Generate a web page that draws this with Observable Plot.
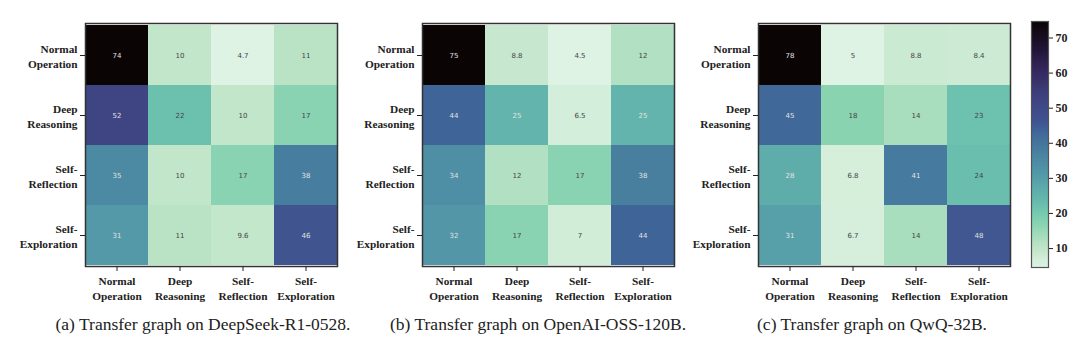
<!DOCTYPE html>
<html><head><meta charset="utf-8">
<script src="https://cdn.jsdelivr.net/npm/d3@7"></script>
<script src="https://cdn.jsdelivr.net/npm/@observablehq/plot@0.6"></script>
<style>
html,body{margin:0;padding:0;background:#fff;}
#root{position:relative;width:1080px;height:354px;overflow:hidden;background:#fff;}
.panel{position:absolute;top:0;}
.panel text{font-family:"Liberation Serif","Times New Roman",serif;}
.panel .cellval text,.panel text.cellval,.panel g.cellval{font-family:"DejaVu Sans",sans-serif !important;font-weight:normal;}
.cap{position:absolute;top:314px;font-family:"Liberation Serif","Times New Roman",serif;font-size:17.5px;line-height:20px;color:#222;white-space:nowrap;transform:translateX(-50%);}
</style></head><body><div id="root"></div>
<script>
const states = ["Normal Operation", "Deep Reasoning", "Self-Reflection", "Self-Exploration"];
const tickLabels = ["Normal\nOperation", "Deep\nReasoning", "Self-\nReflection", "Self-\nExploration"];
// rows: from-state, columns: to-state
const deepseekR1 = [
  [74, 10, 4.7, 11],
  [52, 22, 10, 17],
  [35, 10, 17, 38],
  [31, 11, 9.6, 46]
];
const openaiOss = [
  [75, 8.8, 4.5, 12],
  [44, 25, 6.5, 25],
  [34, 12, 17, 38],
  [32, 17, 7, 44]
];
const qwq = [
  [78, 5, 8.8, 8.4],
  [45, 18, 14, 23],
  [28, 6.8, 41, 24],
  [31, 6.7, 14, 48]
];
const captions = [
  "(a) Transfer graph on DeepSeek-R1-0528.",
  "(b) Transfer graph on OpenAI-OSS-120B.",
  "(c) Transfer graph on QwQ-32B."
];
const colorbarDomain = [4.6, 74.7];
const colorbarTicks = [10, 20, 30, 40, 50, 60, 70];

// reversed "mako"-like ramp (light -> dark)
const rampStops = [0, 0.08, 0.18, 0.25, 0.38, 0.48, 0.56, 0.6, 0.68, 0.8, 0.9, 1];
const rampColors = ["#def3e4", "#c0e5c8", "#88d3b1", "#6bc1ae", "#5399a8", "#477e9f", "#3f6498", "#40528f", "#3f4583", "#35295f", "#1e1330", "#0b0405"];
const ramp = d3.scaleLinear().domain(rampStops).range(rampColors).interpolate(d3.interpolateRgb).clamp(true);
const makoR = t => ramp(t);

const root = document.getElementById("root");
const serif = "'Liberation Serif', 'Times New Roman', serif";
const fontStyle = {fontFamily: serif, fontSize: "11.3px", fontWeight: "bold", color: "#222", background: "transparent", overflow: "visible"};

function panel(matrix) {
  const data = matrix.flatMap((row, i) => row.map((v, j) => ({from: states[i], to: states[j], v})));
  const [lo, hi] = d3.extent(data, d => d.v);
  return Plot.plot({
    width: 340, height: 310,
    marginLeft: 85, marginRight: 3, marginTop: 23, marginBottom: 44,
    style: fontStyle,
    x: {domain: states, padding: 0},
    y: {domain: states, padding: 0},
    color: {type: "linear", domain: [lo, hi], interpolate: makoR},
    marks: [
      Plot.cell(data, {x: "to", y: "from", fill: "v"}),
      Plot.text(data, {x: "to", y: "from", text: d => String(d.v),
        fill: d => (d.v - lo) / (hi - lo) > 0.275 ? "#e2e2e2" : "#444",
        fontSize: 7, fontWeight: "normal", fontFamily: "DejaVu Sans", className: "cellval"}),
      Plot.frame({stroke: "#333", strokeWidth: 1.5}),
      Plot.axisX({tickFormat: d => tickLabels[states.indexOf(d)], tickSize: 5, tickPadding: 3, lineHeight: 1.3, label: null, fontFamily: serif}),
      Plot.axisY({tickFormat: d => tickLabels[states.indexOf(d)], tickSize: 5, tickPadding: 3, lineHeight: 1.4, label: null, fontFamily: serif})
    ]
  });
}

const lefts = [0, 336.7, 672.7];
[deepseekR1, openaiOss, qwq].forEach((m, k) => {
  const svg = panel(m);
  svg.classList.add("panel");
  svg.style.left = lefts[k] + "px";
  root.appendChild(svg);
});

const cb = Plot.plot({
  width: 60, height: 300,
  marginLeft: 11, marginRight: 32, marginTop: 21, marginBottom: 33,
  style: {...fontStyle, fontSize: "12px"},
  x: {domain: [0, 1], axis: null},
  y: {domain: colorbarDomain},
  color: {type: "linear", domain: colorbarDomain, interpolate: makoR},
  marks: [
    Plot.raster({x1: 0, x2: 1, y1: colorbarDomain[0], y2: colorbarDomain[1], width: 1, height: 256, fill: (x, y) => y}),
    Plot.frame({stroke: "#555", strokeWidth: 1.2}),
    Plot.axisY({anchor: "right", ticks: colorbarTicks, tickSize: 4, tickPadding: 3, label: null, fontFamily: serif})
  ]
});
cb.classList.add("panel");
cb.style.left = "1020px";
root.appendChild(cb);

const capCenters = [203, 538, 872];
captions.forEach((c, k) => {
  const d = document.createElement("div");
  d.className = "cap";
  d.style.left = capCenters[k] + "px";
  d.textContent = c;
  root.appendChild(d);
});
</script>
</body></html>
